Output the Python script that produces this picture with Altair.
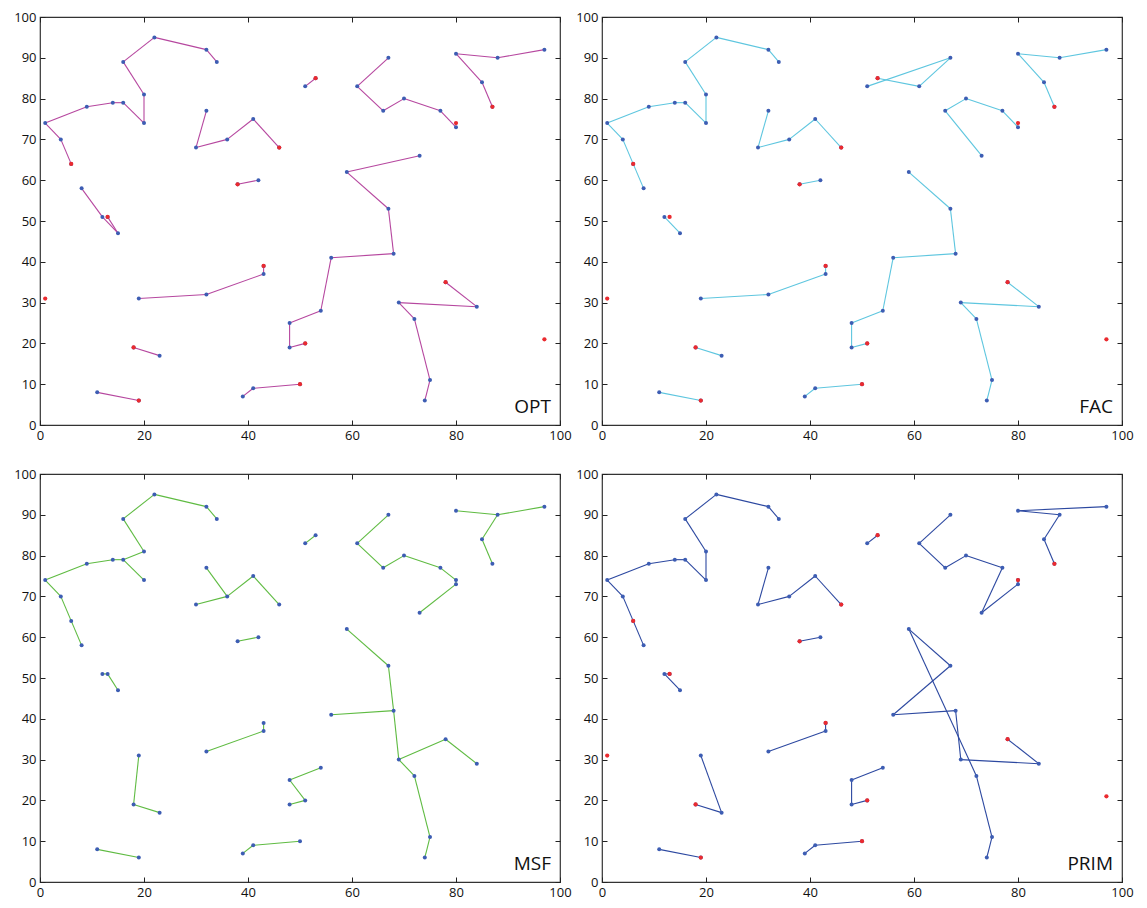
import altair as alt
import pandas as pd

W, H = 520, 408

# red points (open facilities) shared by OPT, FAC and PRIM
fac_x = [6, 46, 38, 13, 53, 80, 87, 1, 43, 18, 19, 51, 50, 78, 97]
fac_y = [64, 68, 59, 51, 85, 74, 78, 31, 39, 19, 6, 20, 10, 35, 21]

x_ticks = [0, 20, 40, 60, 80, 100]
y_ticks = [0, 10, 20, 30, 40, 50, 60, 70, 80, 90, 100]

# edges: (x1, y1, x2, y2)
opt_edges = [
    (1, 74, 4, 70), (4, 70, 6, 64), (1, 74, 9, 78), (9, 78, 14, 79), (14, 79, 16, 79),
    (16, 79, 20, 74), (20, 74, 20, 81), (20, 81, 16, 89), (16, 89, 22, 95), (22, 95, 32, 92),
    (32, 92, 34, 89), (32, 77, 30, 68), (30, 68, 36, 70), (36, 70, 41, 75), (41, 75, 46, 68),
    (38, 59, 42, 60), (8, 58, 12, 51), (12, 51, 15, 47), (13, 51, 15, 47),
    (19, 31, 32, 32), (32, 32, 43, 37), (43, 37, 43, 39), (18, 19, 23, 17), (11, 8, 19, 6),
    (39, 7, 41, 9), (41, 9, 50, 10), (48, 25, 48, 19), (48, 19, 51, 20), (54, 28, 48, 25),
    (56, 41, 54, 28), (68, 42, 56, 41), (67, 53, 68, 42), (59, 62, 67, 53), (59, 62, 73, 66),
    (51, 83, 53, 85), (67, 90, 61, 83), (61, 83, 66, 77), (66, 77, 70, 80), (70, 80, 77, 77),
    (77, 77, 80, 73), (80, 91, 88, 90), (88, 90, 97, 92), (80, 91, 85, 84), (85, 84, 87, 78),
    (78, 35, 84, 29), (84, 29, 69, 30), (69, 30, 72, 26), (72, 26, 75, 11), (75, 11, 74, 6),
]

fac_edges = [
    (1, 74, 4, 70), (4, 70, 6, 64), (6, 64, 8, 58), (1, 74, 9, 78), (9, 78, 14, 79),
    (14, 79, 16, 79), (16, 79, 20, 74), (20, 74, 20, 81), (20, 81, 16, 89), (16, 89, 22, 95),
    (22, 95, 32, 92), (32, 92, 34, 89), (32, 77, 30, 68), (30, 68, 36, 70), (36, 70, 41, 75),
    (41, 75, 46, 68), (38, 59, 42, 60), (12, 51, 15, 47),
    (51, 83, 67, 90), (67, 90, 61, 83), (61, 83, 53, 85),
    (80, 91, 88, 90), (88, 90, 97, 92), (80, 91, 85, 84), (85, 84, 87, 78),
    (66, 77, 70, 80), (70, 80, 77, 77), (77, 77, 80, 73), (66, 77, 73, 66),
    (59, 62, 67, 53), (67, 53, 68, 42), (68, 42, 56, 41), (56, 41, 54, 28), (54, 28, 48, 25),
    (48, 25, 48, 19), (48, 19, 51, 20),
    (19, 31, 32, 32), (32, 32, 43, 37), (43, 37, 43, 39), (18, 19, 23, 17), (11, 8, 19, 6),
    (39, 7, 41, 9), (41, 9, 50, 10),
    (78, 35, 84, 29), (84, 29, 69, 30), (69, 30, 72, 26), (72, 26, 75, 11), (75, 11, 74, 6),
]

msf_edges = [
    (1, 74, 4, 70), (4, 70, 6, 64), (6, 64, 8, 58), (1, 74, 9, 78), (9, 78, 14, 79),
    (14, 79, 16, 79), (16, 79, 20, 81), (16, 79, 20, 74), (20, 81, 16, 89), (16, 89, 22, 95),
    (22, 95, 32, 92), (32, 92, 34, 89), (32, 77, 36, 70), (30, 68, 36, 70), (36, 70, 41, 75),
    (41, 75, 46, 68), (38, 59, 42, 60), (51, 83, 53, 85),
    (67, 90, 61, 83), (61, 83, 66, 77), (66, 77, 70, 80), (70, 80, 77, 77), (77, 77, 80, 74),
    (80, 74, 80, 73), (80, 73, 73, 66),
    (80, 91, 88, 90), (88, 90, 97, 92), (88, 90, 85, 84), (85, 84, 87, 78),
    (59, 62, 67, 53), (67, 53, 68, 42), (56, 41, 68, 42), (68, 42, 69, 30), (69, 30, 78, 35),
    (78, 35, 84, 29), (69, 30, 72, 26), (72, 26, 75, 11), (75, 11, 74, 6),
    (12, 51, 13, 51), (13, 51, 15, 47),
    (43, 39, 43, 37), (43, 37, 32, 32), (19, 31, 18, 19), (18, 19, 23, 17), (54, 28, 48, 25),
    (48, 25, 51, 20), (51, 20, 48, 19), (11, 8, 19, 6), (39, 7, 41, 9), (41, 9, 50, 10),
]

prim_edges = [
    (1, 74, 4, 70), (4, 70, 6, 64), (6, 64, 8, 58), (1, 74, 9, 78), (9, 78, 14, 79),
    (14, 79, 16, 79), (16, 79, 20, 74), (20, 74, 20, 81), (20, 81, 16, 89), (16, 89, 22, 95),
    (22, 95, 32, 92), (32, 92, 34, 89), (32, 77, 30, 68), (30, 68, 36, 70), (36, 70, 41, 75),
    (41, 75, 46, 68), (38, 59, 42, 60), (51, 83, 53, 85),
    (67, 90, 61, 83), (61, 83, 66, 77), (66, 77, 70, 80), (70, 80, 77, 77), (77, 77, 73, 66),
    (73, 66, 80, 73), (80, 73, 80, 74),
    (80, 91, 97, 92), (80, 91, 88, 90), (88, 90, 85, 84), (85, 84, 87, 78),
    (59, 62, 67, 53), (67, 53, 56, 41), (59, 62, 72, 26), (56, 41, 68, 42), (68, 42, 69, 30),
    (69, 30, 84, 29), (84, 29, 78, 35), (72, 26, 75, 11), (75, 11, 74, 6),
    (12, 51, 13, 51), (12, 51, 15, 47),
    (43, 39, 43, 37), (43, 37, 32, 32), (19, 31, 23, 17), (23, 17, 18, 19), (54, 28, 48, 25),
    (48, 25, 48, 19), (48, 19, 51, 20), (11, 8, 19, 6), (39, 7, 41, 9), (41, 9, 50, 10),
]

BLUE = "#3d5db3"
RED = "#ea2a2f"
FONT = "Open Sans"
TICKC = "#222222"

xs = alt.Scale(domain=[0, 100], nice=False, zero=False)
ys = alt.Scale(domain=[0, 100], nice=False, zero=False)

lab_x = alt.Axis(orient="bottom", values=x_ticks, ticks=False, tickSize=0, domain=False, grid=False,
                 labelPadding=4, labelFlush=False, title=None, labelFontSize=13, labelFont=FONT,
                 labelColor="#111111")
lab_y = alt.Axis(orient="left", values=y_ticks, ticks=False, tickSize=0, domain=False, grid=False,
                 labelPadding=4, labelFlush=False, title=None, labelFontSize=13, labelFont=FONT,
                 labelColor="#111111")


def tick_axis(orient, offset, values):
    return alt.Axis(orient=orient, offset=offset, values=values, labels=False, domain=False,
                    grid=False, ticks=True, tickSize=5, tickColor=TICKC, tickWidth=1, title=None)


def panel(edges, color, label, show_fac):
    e = pd.DataFrame(edges, columns=["x1", "y1", "x2", "y2"])
    pts = pd.concat([
        e[["x1", "y1"]].rename(columns={"x1": "x", "y1": "y"}),
        e[["x2", "y2"]].rename(columns={"x2": "x", "y2": "y"}),
    ]).drop_duplicates().reset_index(drop=True)

    rules = alt.Chart(e).mark_rule(color=color, strokeWidth=1.1).encode(
        x=alt.X("x1:Q", scale=xs, axis=lab_x),
        y=alt.Y("y1:Q", scale=ys, axis=lab_y),
        x2="x2:Q", y2="y2:Q",
    )
    dots = alt.Chart(pts).mark_circle(size=16, color=BLUE, opacity=1).encode(
        x=alt.X("x:Q", scale=xs, axis=tick_axis("top", -H, x_ticks)),
        y=alt.Y("y:Q", scale=ys, axis=tick_axis("right", -W, y_ticks)),
    )
    ghost = alt.Chart(pts).mark_point(opacity=0).encode(
        x=alt.X("x:Q", scale=xs, axis=tick_axis("bottom", -H, x_ticks)),
        y=alt.Y("y:Q", scale=ys, axis=tick_axis("left", -W, y_ticks)),
    )
    layers = [rules, dots, ghost]
    if show_fac:
        fdf = pd.DataFrame({"x": fac_x, "y": fac_y})
        red = alt.Chart(fdf).mark_circle(size=18, color=RED, opacity=1).encode(
            x=alt.X("x:Q", scale=xs, axis=None),
            y=alt.Y("y:Q", scale=ys, axis=None),
        )
        layers.append(red)
    txt = alt.Chart(pd.DataFrame({"t": [label]})).mark_text(
        align="right", baseline="alphabetic", fontSize=19, font=FONT, color="#111111"
    ).encode(x=alt.value(W - 9), y=alt.value(H - 12), text="t:N")
    layers.append(txt)
    return alt.layer(*layers).resolve_axis(x="independent", y="independent").properties(
        width=W, height=H)


p_opt = panel(opt_edges, "#b6479f", "OPT", True)
p_fac = panel(fac_edges, "#5ec6df", "FAC", True)
p_msf = panel(msf_edges, "#5fbb42", "MSF", False)
p_prim = panel(prim_edges, "#2c48a0", "PRIM", True)

chart = alt.vconcat(
    alt.hconcat(p_opt, p_fac, spacing=3),
    alt.hconcat(p_msf, p_prim, spacing=3),
    spacing=24,
).properties(
    padding={"left": 5, "top": 2, "right": 5, "bottom": 0},
    background="white",
).configure_view(stroke="#333333", strokeWidth=1.2)

chart.save("out.html", embed_options={"renderer": "svg", "actions": False})
